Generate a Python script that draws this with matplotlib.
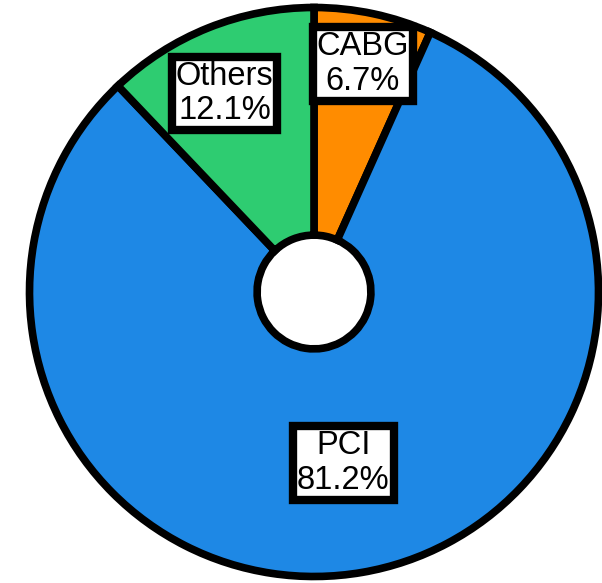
import numpy as np
import matplotlib.pyplot as plt

# 시술 비율
labels = ["CABG", "PCI", "Others"]
shares = [6.7, 81.2, 12.1]
colors = ["#FF8C00", "#1E88E5", "#2ECC71"]
label_r = [0.82, 0.61, 0.765]   # 라벨 반지름 위치
label_da = [0, 0, 2.5]          # 라벨 각도 보정 (deg)

plt.rcParams['font.family'] = ['Liberation Sans', 'DejaVu Sans']

fig = plt.figure(figsize=(6.02, 5.83), dpi=100)
ax = fig.add_axes([0, 0, 1, 1])

wedges, _ = ax.pie(shares, colors=colors, startangle=90, counterclock=False,
                   radius=1.0,
                   wedgeprops=dict(width=0.8, edgecolor='black', linewidth=5.5))

# 라벨 박스
for w, lab, v, r, da in zip(wedges, labels, shares, label_r, label_da):
    mid = np.deg2rad((w.theta1 + w.theta2) / 2 + da)
    ax.text(r * np.cos(mid), r * np.sin(mid), f"{lab}\n{v}%",
            ha='center', va='center', fontsize=23.5, linespacing=1.15,
            bbox=dict(boxstyle='square,pad=0.12', facecolor='white',
                      edgecolor='black', linewidth=6))

# 원 중심 (314, 292) px, 반지름 284.5 px
s = 284.5
ax.set_xlim(-314 / s, (602 - 314) / s)
ax.set_ylim(-(583 - 292) / s, 292 / s)
ax.set_aspect('auto')
ax.axis('off')

fig.savefig("out.png", dpi=100)
